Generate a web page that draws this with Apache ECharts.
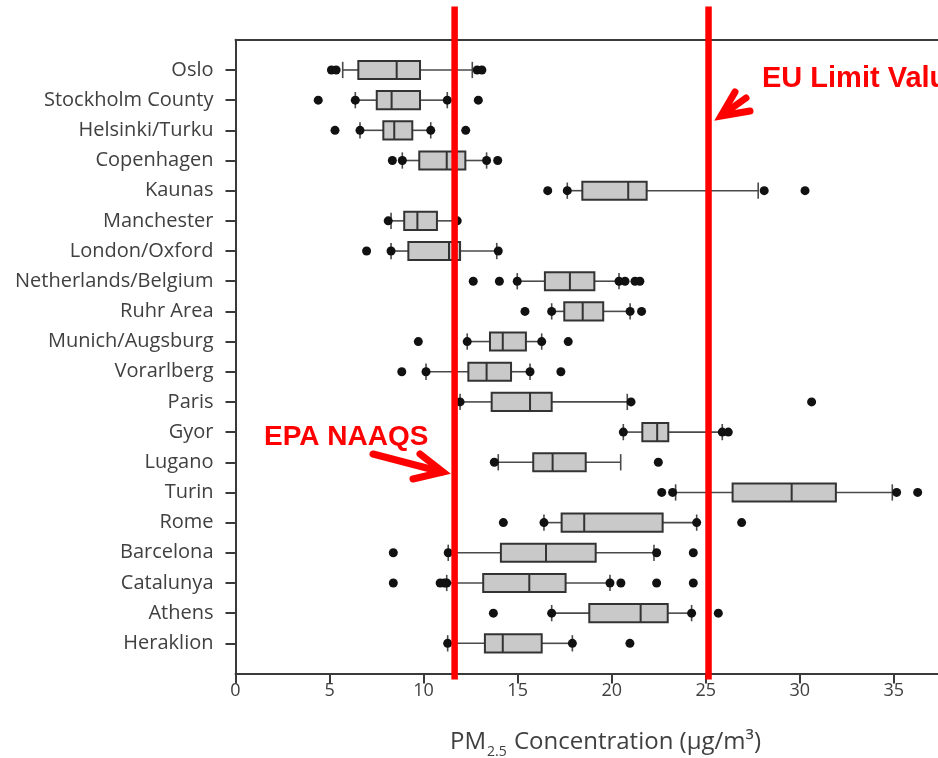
<!DOCTYPE html>
<html>
<head>
<meta charset="utf-8">
<script src="https://cdn.jsdelivr.net/npm/echarts@6/dist/echarts.min.js"></script>
<style>
html,body{margin:0;padding:0;background:#fff;}
#chart{width:938px;height:758px;}
</style>
</head>
<body>
<div id="chart"></div>
<script>
const cities = ['Oslo','Stockholm County','Helsinki/Turku','Copenhagen','Kaunas','Manchester','London/Oxford','Netherlands/Belgium','Ruhr Area','Munich/Augsburg','Vorarlberg','Paris','Gyor','Lugano','Turin','Rome','Barcelona','Catalunya','Athens','Heraklion'];
const whiskerLow  = [5.70, 6.37, 6.62, 8.87, 17.64, 8.27, 8.27, 14.98, 16.81, 12.32, 10.13, 11.94, 20.62, 13.97, 23.40, 16.40, 11.31, 11.23, 16.81, 11.28];
const q1          = [6.53, 7.51, 7.86, 9.77, 18.44, 8.97, 9.19, 16.45, 17.48, 13.53, 12.38, 13.62, 21.63, 15.83, 26.43, 17.34, 14.11, 13.17, 18.81, 13.26];
const median      = [8.57, 8.30, 8.44, 11.23, 20.88, 9.67, 11.35, 17.78, 18.46, 14.21, 13.35, 15.66, 22.42, 16.86, 29.57, 18.54, 16.51, 15.62, 21.54, 14.21];
const q3          = [9.81, 9.81, 9.40, 12.22, 21.86, 10.71, 11.94, 19.08, 19.55, 15.44, 14.65, 16.81, 23.01, 18.62, 31.92, 22.71, 19.15, 17.55, 22.98, 16.28];
const whiskerHigh = [12.59, 11.26, 10.38, 13.35, 27.79, 11.55, 13.89, 20.39, 20.98, 16.28, 15.66, 20.83, 25.88, 20.48, 34.92, 24.52, 22.25, 19.91, 24.25, 17.91];
const outliers = [
  [5.10, 5.35, 12.85, 13.10],
  [4.40, 6.37, 11.26, 12.91],
  [5.29, 6.62, 10.38, 12.24],
  [8.34, 8.87, 13.35, 13.94],
  [16.60, 17.64, 28.11, 30.28],
  [8.12, 11.79],
  [6.97, 8.27, 13.97],
  [12.64, 14.03, 14.98, 20.39, 20.71, 21.24, 21.50],
  [15.39, 16.81, 20.98, 21.59],
  [9.72, 12.32, 16.28, 17.69],
  [8.84, 10.13, 15.66, 17.30],
  [11.94, 21.03, 30.63],
  [20.62, 25.88, 26.20],
  [13.76, 22.48],
  [22.66, 23.24, 35.15, 36.27],
  [14.24, 16.40, 24.52, 26.91],
  [8.39, 11.31, 22.39, 24.34],
  [8.39, 10.88, 11.10, 11.23, 19.91, 20.49, 22.39, 24.34],
  [13.71, 16.81, 24.25, 25.67],
  [11.28, 17.91, 20.97]
];
const limitNames = ['EPA NAAQS', 'EU Limit Value'];
const limitValues = [11.65, 25.15];
const xTicks = [0, 5, 10, 15, 20, 25, 30, 35];

const boxData = cities.map((c, i) => [i + 1, whiskerLow[i], q1[i], median[i], q3[i], whiskerHigh[i]]);
const outlierData = [];
outliers.forEach((arr, i) => arr.forEach(v => outlierData.push([v, i + 1])));

const chart = echarts.init(document.getElementById('chart'), null, {renderer: 'canvas'});
const axisColor = '#3a3a3a';
const labelFont = 'Open Sans';

chart.setOption({
  animation: false,
  backgroundColor: '#fff',
  grid: {left: 235.5, right: 0, top: 39.8, bottom: 758 - 673.5},
  xAxis: [{
    type: 'value', position: 'bottom', min: 0, max: 37.35, interval: 5,
    axisLine: {show: true, onZero: false, lineStyle: {color: axisColor, width: 2}},
    axisTick: {show: true, length: 10, customValues: xTicks, lineStyle: {color: axisColor, width: 2}},
    axisLabel: {customValues: xTicks, color: '#404040', fontFamily: labelFont, fontSize: 18, margin: 8},
    splitLine: {show: false}
  }, {
    type: 'value', position: 'top', min: 0, max: 37.35, interval: 5,
    axisLine: {show: true, onZero: false, lineStyle: {color: axisColor, width: 2}},
    axisTick: {show: false}, axisLabel: {show: false}, splitLine: {show: false}
  }],
  yAxis: {
    type: 'value', inverse: true, min: 0, max: 21, interval: 1,
    axisLine: {show: true, onZero: false, lineStyle: {color: axisColor, width: 2}},
    axisTick: {show: true, length: 10, customValues: cities.map((c, i) => i + 1), lineStyle: {color: axisColor, width: 2}},
    axisLabel: {
      customValues: cities.map((c, i) => i + 1),
      formatter: v => cities[v - 1] || '',
      color: '#404040', fontFamily: labelFont, fontSize: 20, margin: 22
    },
    splitLine: {show: false}
  },
  series: [{
    type: 'custom',
    name: 'boxes',
    data: boxData,
    encode: {x: [1, 2, 3, 4, 5], y: 0},
    renderItem: function (params, api) {
      const y = api.value(0);
      const pt = k => api.coord([api.value(k), y]);
      const band = api.size([0, 1])[1];
      const hh = band * 0.3, ch = band * 0.27;
      const lo = pt(1), a = pt(2), m = pt(3), b = pt(4), hi = pt(5);
      const cy = lo[1];
      const wStyle = {stroke: '#4a4a4a', lineWidth: 1.6};
      return {
        type: 'group',
        children: [
          {type: 'line', shape: {x1: lo[0], y1: cy, x2: a[0], y2: cy}, style: wStyle},
          {type: 'line', shape: {x1: b[0], y1: cy, x2: hi[0], y2: cy}, style: wStyle},
          {type: 'line', shape: {x1: lo[0], y1: cy - ch, x2: lo[0], y2: cy + ch}, style: wStyle},
          {type: 'line', shape: {x1: hi[0], y1: cy - ch, x2: hi[0], y2: cy + ch}, style: wStyle},
          {type: 'rect', shape: {x: a[0], y: cy - hh, width: b[0] - a[0], height: 2 * hh},
            style: {fill: '#c9c9c9', stroke: '#333', lineWidth: 2}},
          {type: 'line', shape: {x1: m[0], y1: cy - hh, x2: m[0], y2: cy + hh}, style: {stroke: '#333', lineWidth: 2}}
        ]
      };
    },
    z: 2
  }, {
    type: 'scatter',
    name: 'outliers',
    data: outlierData,
    symbol: 'circle', symbolSize: 9,
    itemStyle: {color: '#111', opacity: 1},
    z: 3
  }, {
    type: 'custom',
    name: 'limits',
    clip: false,
    data: limitValues.map((v, i) => ({value: [v], name: limitNames[i]})),
    encode: {x: 0},
    renderItem: function (params, api) {
      const x = api.value(0);
      const top = api.coord([x, -1.1]);
      const bot = api.coord([x, 21.2]);
      return {type: 'line', shape: {x1: top[0], y1: top[1], x2: bot[0], y2: bot[1]},
        style: {stroke: '#ff0000', lineWidth: 6.5}};
    },
    z: 5
  }],
  graphic: [
    {type: 'text', z: 10, x: 450, y: 724, style: {
      rich: {
        b: {fontFamily: labelFont, fontSize: 24, fill: '#404040', lineHeight: 30, verticalAlign: 'bottom'},
        s: {fontFamily: labelFont, fontSize: 14, fill: '#404040', lineHeight: 30, verticalAlign: 'bottom', padding: [0, 1, -5, 1]}
      },
      text: '{b|PM}{s|2.5}{b| Concentration (μg/m³)}'
    }},
    {type: 'text', z: 10, x: 264, y: 423, style: {text: limitNames[0], fill: '#ff0000',
      font: 'bold 28px "Liberation Sans"'}},
    {type: 'text', z: 10, x: 762, y: 64, style: {text: limitNames[1], fill: '#ff0000',
      font: 'bold 29px "Liberation Sans"'}},
    {type: 'polyline', z: 10, shape: {points: [[373, 454], [442, 472]]},
      style: {stroke: '#ff0000', lineWidth: 7, lineCap: 'round'}},
    {type: 'polyline', z: 10, shape: {points: [[420, 454], [443, 472], [413, 479]]},
      style: {stroke: '#ff0000', lineWidth: 7, lineCap: 'round', lineJoin: 'miter', fill: null}},
    {type: 'polyline', z: 10, shape: {points: [[746, 98], [722, 115]]},
      style: {stroke: '#ff0000', lineWidth: 7, lineCap: 'round'}},
    {type: 'polyline', z: 10, shape: {points: [[735, 92], [721, 116], [750, 111]]},
      style: {stroke: '#ff0000', lineWidth: 7, lineCap: 'round', lineJoin: 'miter', fill: null}}
  ]
});
</script>
</body>
</html>
